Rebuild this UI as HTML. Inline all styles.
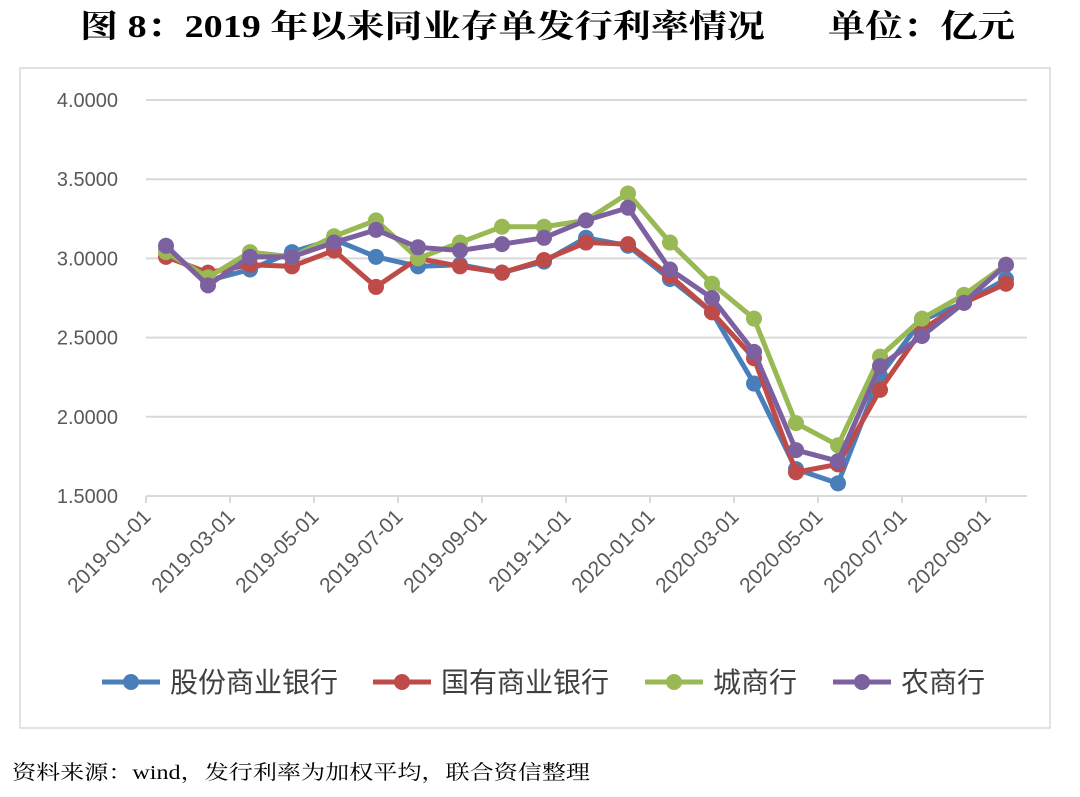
<!DOCTYPE html>
<html><head><meta charset="utf-8"><style>
body{margin:0;background:#fff;width:1080px;height:792px;overflow:hidden;font-family:"Liberation Sans","Noto Sans CJK SC",sans-serif}
</style></head><body>
<svg id="c" width="1080" height="792">
<text x="80" y="37" font-family="'Liberation Serif','Noto Serif CJK SC',serif" font-weight="bold" font-size="32" fill="#000" textLength="685" lengthAdjust="spacingAndGlyphs">图 8：2019 年以来同业存单发行利率情况</text>
<text x="828" y="37" font-family="'Liberation Serif','Noto Serif CJK SC',serif" font-weight="bold" font-size="32" fill="#000" textLength="187" lengthAdjust="spacingAndGlyphs">单位：亿元</text>
<rect x="20" y="68" width="1030" height="660" fill="none" stroke="#d9d9d9" stroke-width="1.5"/>
<g id="grid"></g><g id="series"></g><g id="legend"></g>
<text x="12" y="779" font-family="'Liberation Serif','Noto Serif CJK SC',serif" font-size="20" fill="#000" textLength="578" lengthAdjust="spacingAndGlyphs">资料来源：wind，发行利率为加权平均，联合资信整理</text>
</svg>
<script>
const yTicks=[1.5,2.0,2.5,3.0,3.5,4.0];
const xTickLabels=["2019-01-01","2019-03-01","2019-05-01","2019-07-01","2019-09-01","2019-11-01","2020-01-01","2020-03-01","2020-05-01","2020-07-01","2020-09-01"];
const seriesNames=["股份商业银行","国有商业银行","城商行","农商行"];
const colors=["#4a7ebb","#be4b48","#98b954","#7d60a0"];
const gufen=[3.05,2.86,2.93,3.04,3.12,3.01,2.95,2.96,2.91,2.98,3.13,3.08,2.87,2.66,2.21,1.67,1.58,2.26,2.61,2.72,2.87];
const guoyou=[3.01,2.91,2.96,2.95,3.05,2.82,3.00,2.95,2.91,2.99,3.10,3.09,2.89,2.66,2.37,1.65,1.70,2.17,2.55,2.72,2.84];
const chengshang=[3.04,2.88,3.04,3.01,3.14,3.24,3.00,3.10,3.20,3.20,3.24,3.41,3.10,2.84,2.62,1.96,1.82,2.38,2.62,2.77,2.96];
const nongshang=[3.08,2.83,3.01,3.01,3.10,3.18,3.07,3.05,3.09,3.13,3.24,3.32,2.93,2.75,2.41,1.79,1.72,2.32,2.51,2.72,2.96];
const allSeries=[gufen,guoyou,chengshang,nongshang];
const NS="http://www.w3.org/2000/svg";
const X0=146,X1=1027,Y0=496,Y1=100,vmin=1.5,vmax=4.0,step=42;
const y=v=>Y0-(v-vmin)/(vmax-vmin)*(Y0-Y1);
const x=i=>X0+step/2+i*step-1;
const tx=i=>X0+i*2*step;
function mk(t,a,p){const e=document.createElementNS(NS,t);for(const k in a)e.setAttribute(k,a[k]);p.appendChild(e);return e;}
const g=document.getElementById('grid');
yTicks.forEach(v=>{
 const l=mk('line',{x1:X0,x2:X1,y1:y(v),y2:y(v),stroke:'#d9d9d9','stroke-width':2},g);
 
 
 const t=mk('text',{x:118,y:y(v)+7,'text-anchor':'end','font-size':20,fill:'#595959'},g);
 t.textContent=v.toFixed(4);
 
 
});
xTickLabels.forEach((s,i)=>{
 const X=tx(i);
 const l=mk('line',{x1:X,x2:X,y1:Y0,y2:Y0+7,stroke:'#d9d9d9','stroke-width':2},g);
 
 
 const t=mk('text',{x:X+6,y:Y0+22,'text-anchor':'end','font-size':21,fill:'#595959',transform:`rotate(-45 ${X+6} ${Y0+22})`},g);
 t.textContent=s;
 
 
});
const sg=document.getElementById('series');
allSeries.forEach((d,k)=>{
 const grp=mk('g',{},sg);
 
 
 const p=mk('polyline',{points:d.map((v,i)=>x(i)+','+y(v)).join(' '),fill:'none',stroke:colors[k],'stroke-width':5,'stroke-linejoin':'round'},grp);
 
 
 d.forEach((v,i)=>{
  const c=mk('circle',{cx:x(i),cy:y(v),r:8,fill:colors[k]},grp);
  
  
 });
});
const lg=document.getElementById('legend');
const lx=[102,373,645,833];
seriesNames.forEach((n,k)=>{
 const e=mk('g',{},lg);
 
 
 mk('line',{x1:lx[k],x2:lx[k]+58,y1:682,y2:682,stroke:colors[k],'stroke-width':5},e);
 mk('circle',{cx:lx[k]+29,cy:682,r:8,fill:colors[k]},e);
 const t=mk('text',{x:lx[k]+68,y:692,'font-size':28,fill:'#404040'},e);
 t.textContent=n;
 
 
});
</script>
</body></html>
